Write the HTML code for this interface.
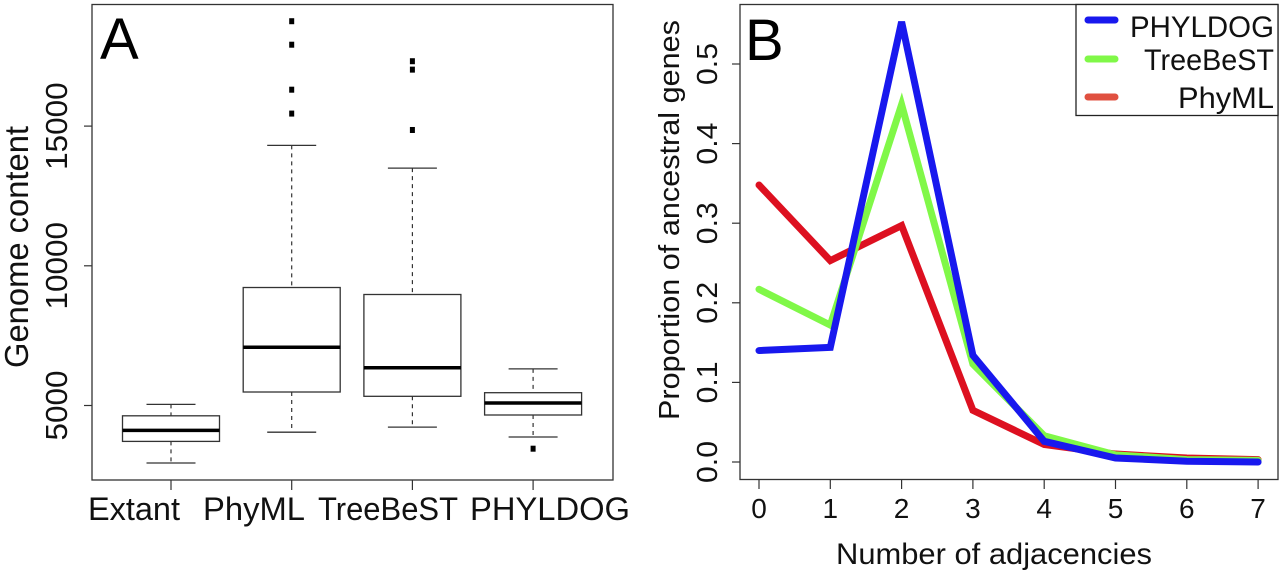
<!DOCTYPE html>
<html><head><meta charset="utf-8"><style>
html,body{margin:0;padding:0;background:#fff;}
svg{display:block;font-family:"Liberation Sans",Arial,sans-serif;}
</style></head><body>
<svg id="fig" width="1280" height="582" viewBox="0 0 1280 582">
<defs><clipPath id="clipB"><rect x="740" y="4" width="538" height="475"/></clipPath></defs>
<g id="panelA"></g>
<g id="panelB"></g>
</svg>
<script>
// Panel A data
const catsA = ["Extant","PhyML","TreeBeST","PHYLDOG"];
const lowW = [2942,4044,4227,3873];
const q1 = [3715,5483,5329,4660];
const med = [4109,7083,6349,5090];
const q3 = [4631,9223,8973,5458];
const upW = [5040,14309,13497,6310];
const outliers = [[],[15448,16303,17913,18754],[14861,17021,17322],[3454]];
const ticksA = [5000,10000,15000];
// Panel B data
const xCats = [0,1,2,3,4,5,6,7];
const seriesNames = ["PHYLDOG","TreeBeST","PhyML"];
const phyldog = [0.140,0.144,0.553,0.134,0.026,0.005,0.001,0.000];
const treebest = [0.217,0.172,0.449,0.123,0.033,0.009,0.003,0.002];
const phyml = [0.348,0.253,0.297,0.065,0.022,0.010,0.005,0.003];
const ticksBy = [0.0,0.1,0.2,0.3,0.4,0.5];

const NS="http://www.w3.org/2000/svg";
function mk(p,tag,at,txt){const e=document.createElementNS(NS,tag);for(const k in at)e.setAttribute(k,at[k]);if(txt!==undefined)e.textContent=txt;p.appendChild(e);return e;}
const LA='spacingAndGlyphs';

// ---- Panel A
const A=document.getElementById('panelA');
const yA=v=>405.5-(v-5000)*0.02794;
const xA=i=>171+i*120.7;
let e=mk(A,'rect',{x:92,y:4.5,width:521,height:475.5,fill:'none',stroke:'#333','stroke-width':1.3});


ticksA.forEach(t=>{
  const l=mk(A,'line',{x1:84,x2:92,y1:yA(t),y2:yA(t),stroke:'#333','stroke-width':1.2});
  
  
  const tx=mk(A,'text',{x:0,y:0,transform:`translate(67,${yA(t)}) rotate(-90)`,'text-anchor':'middle','font-size':31,fill:'#111',textLength:String(t).length*17.5,lengthAdjust:LA},t);
  
  
});
e=mk(A,'text',{x:0,y:0,transform:'translate(28,247) rotate(-90)','text-anchor':'middle','font-size':33,fill:'#111',textLength:242,lengthAdjust:LA},'Genome content');


e=mk(A,'text',{x:100,y:59,'font-size':58,fill:'#000'},'A');


const labLen=[92,102,140,160];
catsA.forEach((c,i)=>{
  const x=xA(i),hw=48.5,cw=24.5;
  const g=mk(A,'g',{});
  
  
  mk(g,'line',{x1:x,x2:x,y1:yA(upW[i]),y2:yA(q3[i]),stroke:'#333','stroke-width':1.2,'stroke-dasharray':'4,4'});
  mk(g,'line',{x1:x,x2:x,y1:yA(q1[i]),y2:yA(lowW[i]),stroke:'#333','stroke-width':1.2,'stroke-dasharray':'4,4'});
  mk(g,'line',{x1:x-cw,x2:x+cw,y1:yA(upW[i]),y2:yA(upW[i]),stroke:'#333','stroke-width':1.3});
  mk(g,'line',{x1:x-cw,x2:x+cw,y1:yA(lowW[i]),y2:yA(lowW[i]),stroke:'#333','stroke-width':1.3});
  mk(g,'rect',{x:x-hw,y:yA(q3[i]),width:2*hw,height:yA(q1[i])-yA(q3[i]),fill:'#fff',stroke:'#333','stroke-width':1.3});
  mk(g,'line',{x1:x-hw,x2:x+hw,y1:yA(med[i]),y2:yA(med[i]),stroke:'#000','stroke-width':3.5});
  outliers[i].forEach(o=>{
    const r=mk(g,'rect',{x:x-2.5,y:yA(o)-3,width:5,height:6,fill:'#000'});
    
    
  });
  const t=mk(A,'line',{x1:x,x2:x,y1:480,y2:490,stroke:'#333','stroke-width':1.2});
  
  
  const lx=[134,254,388,550][i];
  const lb=mk(A,'text',{x:lx,y:520,'text-anchor':'middle','font-size':32,fill:'#111',textLength:labLen[i],lengthAdjust:LA},c);
  
  
});

// ---- Panel B
const B=document.getElementById('panelB');
const xB=v=>759+v*71.3;
const yB=v=>462-v*796;
e=mk(B,'rect',{x:740,y:4.5,width:538,height:475,fill:'none',stroke:'#333','stroke-width':1.3});


ticksBy.forEach(t=>{
  const l=mk(B,'line',{x1:732,x2:740,y1:yB(t),y2:yB(t),stroke:'#333','stroke-width':1.2});
  
  
  const tx=mk(B,'text',{x:0,y:0,transform:`translate(717,${yB(t)}) rotate(-90)`,'text-anchor':'middle','font-size':29,fill:'#111',textLength:42,lengthAdjust:LA},t.toFixed(1));
  
  
});
xCats.forEach(c=>{
  const l=mk(B,'line',{x1:xB(c),x2:xB(c),y1:479,y2:489,stroke:'#333','stroke-width':1.2});
  
  
  const tx=mk(B,'text',{x:xB(c),y:518,'text-anchor':'middle','font-size':28,fill:'#111'},c);
  
  
});
e=mk(B,'text',{x:0,y:0,transform:'translate(679,220) rotate(-90)','text-anchor':'middle','font-size':29,fill:'#111',textLength:400,lengthAdjust:LA},'Proportion of ancestral genes');


e=mk(B,'text',{x:994,y:564,'text-anchor':'middle','font-size':30,fill:'#111',textLength:316,lengthAdjust:LA},'Number of adjacencies');


e=mk(B,'text',{x:745,y:60,'font-size':58,fill:'#000'},'B');


const series=[[phyml,'#dd1020'],[treebest,'#80f848'],[phyldog,'#1818ee']];
const lg=mk(B,'g',{'clip-path':'url(#clipB)'});
series.forEach(([d,col],k)=>{
  const pts=d.map((v,i)=>xB(xCats[i])+','+yB(v)).join(' ');
  const p=mk(lg,'polyline',{points:pts,fill:'none',stroke:col,'stroke-width':7,'stroke-linejoin':'miter','stroke-linecap':'round'});
  
  
});
// legend
const leg=mk(B,'g',{});


mk(leg,'rect',{x:1076,y:4.5,width:202,height:111,fill:'#fff',stroke:'#222','stroke-width':1.3});
const legCols=['#1818ee','#80f848','#e05040'];
const legLen=[144,130,96];
seriesNames.forEach((n,i)=>{
  const y=[20,59,97][i];
  const ent=mk(leg,'g',{});
  
  
  mk(ent,'line',{x1:1088,x2:1115,y1:y,y2:y,stroke:legCols[i],'stroke-width':7,'stroke-linecap':'round'});
  mk(ent,'text',{x:1274,y:[37,70,108][i],'text-anchor':'end','font-size':30,fill:'#111',textLength:legLen[i],lengthAdjust:LA},n);
});
</script>
</body></html>
